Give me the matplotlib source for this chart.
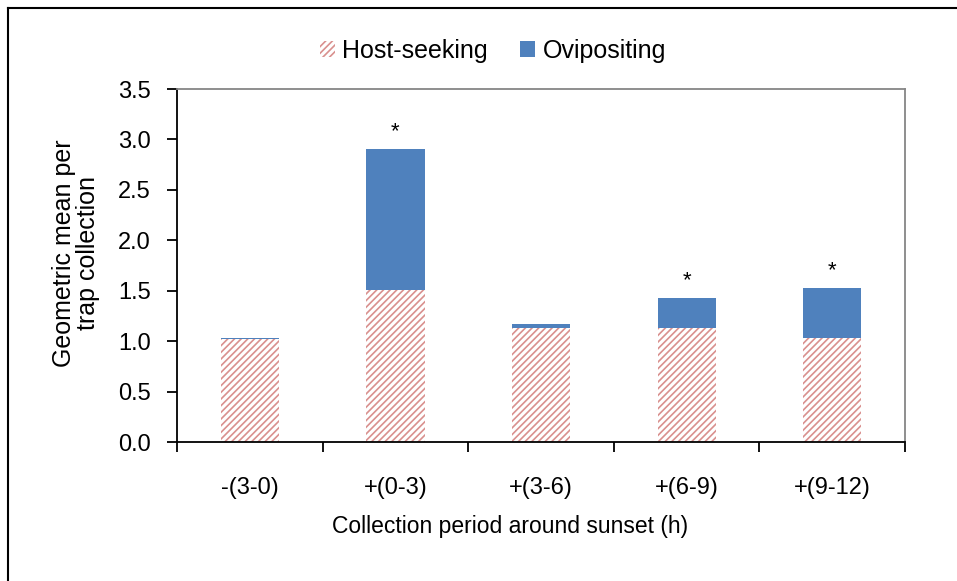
import numpy as np
import matplotlib
matplotlib.use('Agg')
import matplotlib.pyplot as plt
from matplotlib.lines import Line2D

plt.rcParams['font.family'] = ['Liberation Sans', 'DejaVu Sans']
plt.rcParams['hatch.linewidth'] = 1.2

# Data
periods = ['-(3-0)', '+(0-3)', '+(3-6)', '+(6-9)', '+(9-12)']
host_seeking = [1.02, 1.51, 1.13, 1.13, 1.03]
ovipositing = [0.015, 1.40, 0.04, 0.30, 0.50]
significant = [False, True, False, True, True]

fig = plt.figure(figsize=(9.57, 5.81), dpi=100)
ax = fig.add_axes([0.185, 0.2392, 0.7607, 0.6076])

x = np.arange(len(periods))
ax.bar(x, host_seeking, width=0.4, color='white', edgecolor='#d9908e',
       hatch='/////', linewidth=0, label='Host-seeking')
ax.bar(x, ovipositing, width=0.4, bottom=host_seeking, color='#4f81bd',
       linewidth=0, label='Ovipositing')

# significance stars
for i, sig in enumerate(significant):
    if sig:
        top = host_seeking[i] + ovipositing[i]
        ax.annotate('*', (x[i], top), xytext=(0, 12), textcoords='offset points',
                    ha='center', va='center', fontsize=16)

ax.set_xlim(-0.5, len(periods) - 0.5)
ax.set_ylim(0, 3.5)
ax.set_yticks(np.arange(0, 3.51, 0.5))
ax.set_yticklabels([f'{v:.1f}' for v in np.arange(0, 3.51, 0.5)])
ax.set_xticks(x)
ax.set_xticklabels(periods)
ax.set_xticks(np.arange(-0.5, len(periods)), minor=True)
ax.tick_params(axis='x', which='major', length=0, pad=25, labelsize=17)
ax.tick_params(axis='x', which='minor', length=7, width=1.3, direction='out')
ax.tick_params(axis='y', length=7, width=1.3, direction='out', pad=12, labelsize=17)

ax.spines['left'].set_linewidth(1.3)
ax.spines['bottom'].set_linewidth(1.3)
ax.spines['top'].set_color('#868686')
ax.spines['right'].set_color('#868686')
ax.spines['top'].set_linewidth(1.3)
ax.spines['right'].set_linewidth(1.3)

ax.set_xlabel('Collection period around sunset (h)', fontsize=16.5)
ax.xaxis.set_label_coords(0.457, -0.207)
ax.set_ylabel('Geometric mean per\ntrap collection', fontsize=18, linespacing=1.0)
ax.yaxis.set_label_coords(-0.106, 0.535)

ax.legend(loc='center', bbox_to_anchor=(0.434, 1.108), ncol=2, frameon=False,
          fontsize=18, handlelength=0.6, handleheight=0.6, handletextpad=0.3,
          columnspacing=1.3, borderaxespad=0)

# outer chart border (left and top visible)
fig.add_artist(Line2D([8 / 957, 8 / 957], [0, 1 - 8 / 581], color='black',
                      linewidth=1.5, transform=fig.transFigure))
fig.add_artist(Line2D([8 / 957, 1], [1 - 8 / 581, 1 - 8 / 581], color='black',
                      linewidth=1.5, transform=fig.transFigure))

fig.savefig('out.png', dpi=100)
